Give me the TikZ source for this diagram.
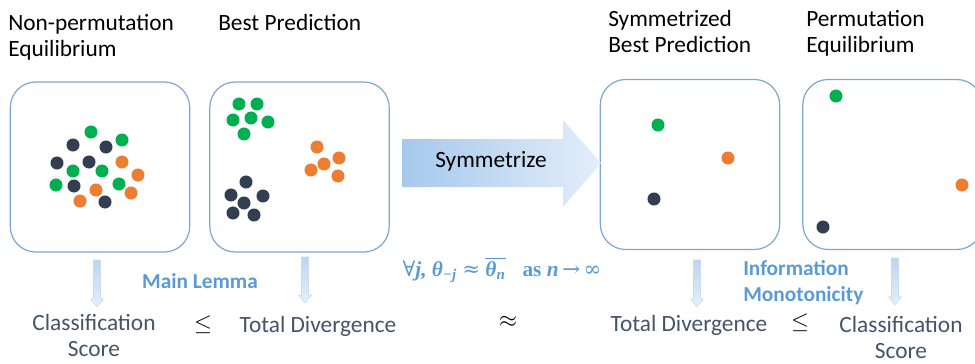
\documentclass[tikz,border=0pt]{standalone}
\usepackage[no-math]{fontspec}
\setmainfont{Carlito}
\newfontfamily\limfont{Liberation Serif}
\newfontfamily\allfont{DejaVu Serif}
\usepackage{amsmath}
\definecolor{boxline}{HTML}{7EA6D3}
\definecolor{gr}{HTML}{00B050}
\definecolor{dk}{HTML}{333F50}
\definecolor{og}{HTML}{ED7D31}
\definecolor{lblue}{HTML}{5B9BD5}
\definecolor{slate}{HTML}{44546A}
\definecolor{symL}{HTML}{A6C8EC}
\definecolor{symR}{HTML}{E4EEFA}
\definecolor{arrtop}{HTML}{BDD5EF}
\definecolor{arrbot}{HTML}{E6EFF9}
\definecolor{arredge}{HTML}{C9DBF0}
\newcommand{\vblock}[3]{\shade[top color=arrtop, bottom color=arrbot, draw=arredge, line width=0.4pt]
  (#1-3.5,#2) -- (#1+3.5,#2) -- (#1+3.5,#3-8) -- (#1+6.5,#3-8) -- (#1,#3) -- (#1-6.5,#3-8) -- (#1-3.5,#3-8) -- cycle;}
\newcommand{\sy}[1]{{\allfont\upshape\mdseries #1}}
\begin{document}
\begin{tikzpicture}[x=0.75pt,y=-0.75pt]
	\tikzset{box/.style={draw=boxline, line width=0.9pt, rounded corners=19pt, minimum width=134.5pt, minimum height=127.5pt, inner sep=0pt},
		lbl/.style={font=\fontsize{17.5}{19.5}\selectfont, inner sep=0pt},
		res/.style={lbl, text=slate, align=center},
		rel/.style={font=\fontsize{17.5}{19.5}\selectfont, inner sep=0pt},
		blu/.style={font=\fontsize{16}{19.5}\selectfont\bfseries, text=lblue, inner sep=0pt}};
	\useasboundingbox (0,0) rectangle (975,364);

	\node[box] (b1) at (100,167) {};
	\node[box] (b2) at (299.5,167) {};
	\node[box] (b3) at (690,164.5) {};
	\node[box] (b4) at (892.5,164.5) {};

	\node[lbl, anchor=north west, align=left] (t1) at (8,14) {Non-permutation\\Equilibrium};
	\node[lbl, anchor=north west] (t2) at (218,14) {Best Prediction};
	\node[lbl, anchor=north west, align=left] (t3) at (608,10) {Symmetrized\\Best Prediction};
	\node[lbl, anchor=north west, align=left] (t4) at (806,10) {Permutation\\Equilibrium};

	\foreach \x/\y in {91/132, 122/140, 73/171, 102/171, 56/185, 119/184}
		\fill[gr] (\x,\y) circle[radius=4.9pt];
	\foreach \x/\y in {73/145, 106/147, 57/163, 89/162, 74/186, 105/202}
		\fill[dk] (\x,\y) circle[radius=4.9pt];
	\foreach \x/\y in {122/162, 138/175, 96/190, 131/193, 80/201}
		\fill[og] (\x,\y) circle[radius=4.9pt];

	\foreach \x/\y in {239/104, 257/104, 233/120, 251/118, 268/122, 244/134}
		\fill[gr] (\x,\y) circle[radius=4.9pt];
	\foreach \x/\y in {317/147, 324/164, 339/158, 311/170, 338/176}
		\fill[og] (\x,\y) circle[radius=4.9pt];
	\foreach \x/\y in {246/182, 231/195, 263/196, 244/203, 233/213, 254/215}
		\fill[dk] (\x,\y) circle[radius=4.9pt];

	\fill[gr] (658,125) circle[radius=4.9pt];
	\fill[og] (728,158) circle[radius=4.9pt];
	\fill[dk] (654,199) circle[radius=4.9pt];

	\fill[gr] (836,96) circle[radius=4.9pt];
	\fill[og] (962,185) circle[radius=4.9pt];
	\fill[dk] (823,227) circle[radius=4.9pt];

	\shade[left color=symL, right color=symR] (402,139) -- (563,139) -- (563,120) -- (601,163)
		-- (563,207) -- (563,187) -- (402,187) -- cycle;
	\node[lbl] (sym) at (491,161) {Symmetrize};

	\vblock{97}{260}{307}
	\vblock{305}{257}{303}
	\vblock{697}{260}{307}
	\vblock{895}{258}{305}

	\node[res, anchor=north] (cs1) at (94,314) {Classification\\Score};
	\node[rel] (le1) at (203,325) {$\leq$};
	\node[res] (td1) at (318,326) {Total Divergence};
	\node[rel] (ap) at (508,322) {$\approx$};
	\node[res] (td2) at (689,325) {Total Divergence};
	\node[rel] (le2) at (800,323) {$\leq$};
	\node[res, anchor=north] (cs2) at (901,316) {Classification\\Score};

	\node[blu] (ml) at (200,281) {Main Lemma};
	\node[blu, anchor=north west, align=left] (im) at (743,260) {Information\\Monotonicity};
	\node[inner sep=0pt, text=lblue, font=\fontsize{16}{18}\selectfont\limfont\bfseries\itshape] (lim) at (502,270)
		{\sy{∀}j, θ\textsubscript{−j} \sy{≈} $\overline{\text{θ}_{\text{n}}}$\hspace{0.8em}{\upshape as} n\,\sy{→}\,\sy{∞}};
\end{tikzpicture}
\end{document}
